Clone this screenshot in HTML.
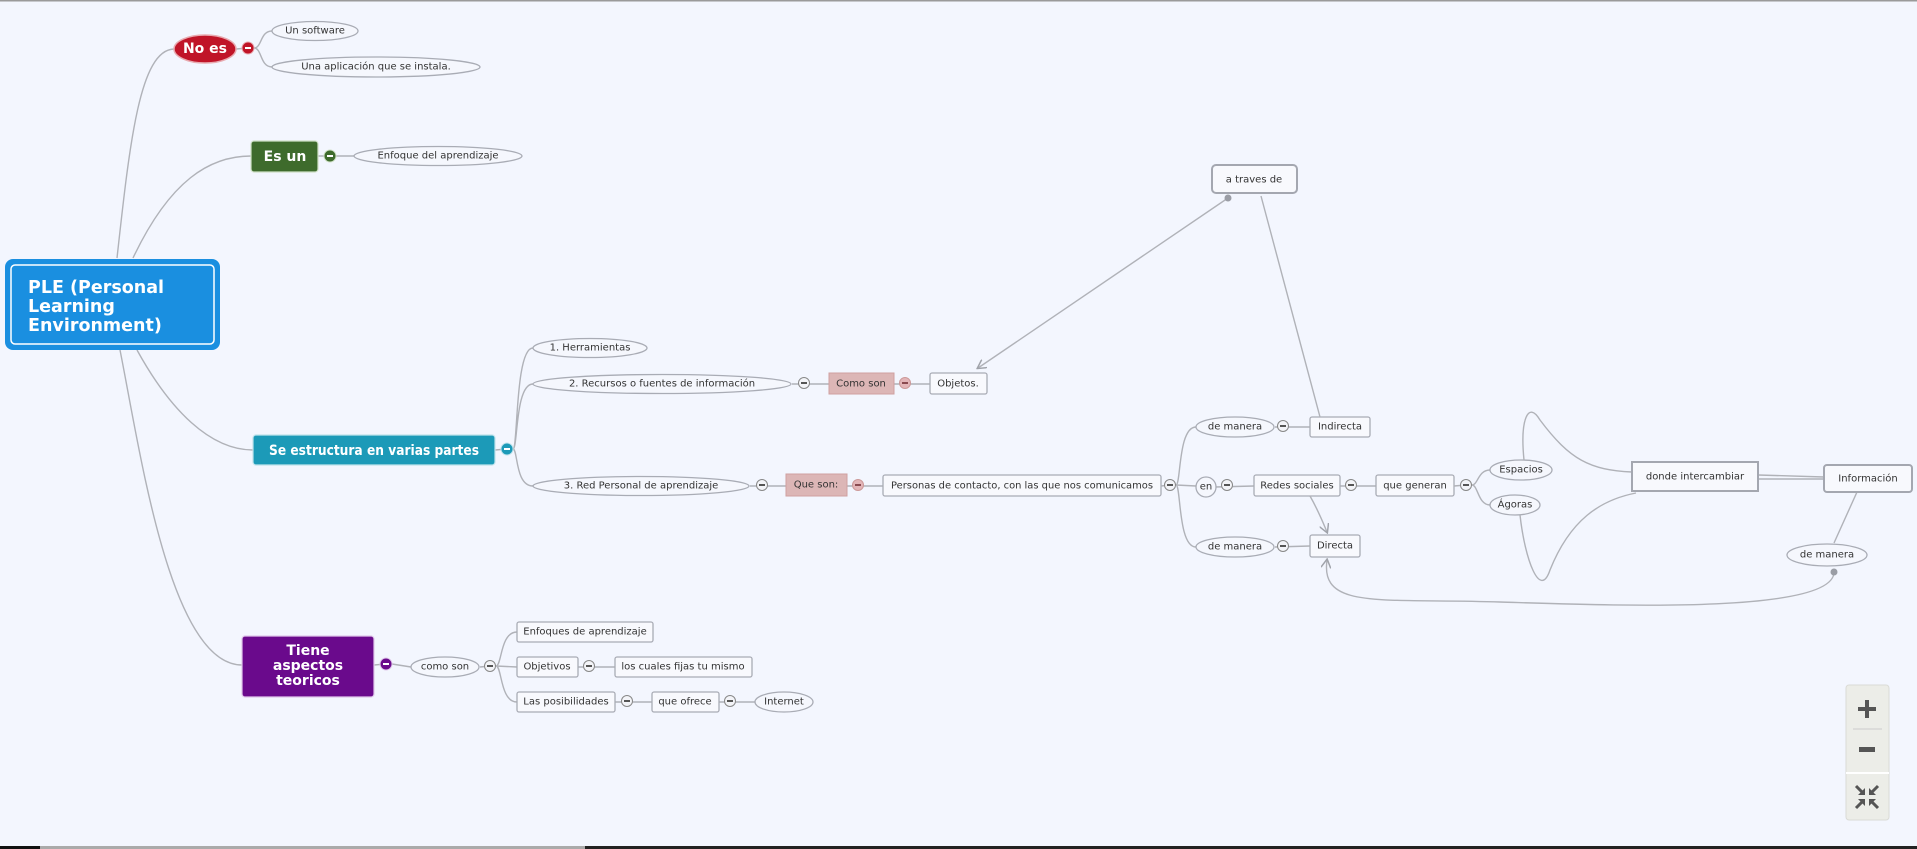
<!DOCTYPE html>
<html><head><meta charset="utf-8"><style>
html,body{margin:0;padding:0;background:#f3f6fe;}
svg{display:block;font-family:"DejaVu Sans","Liberation Sans",sans-serif;}
.t{font-size:10px;fill:#333;text-anchor:middle;dominant-baseline:central;}
.e{fill:#f5f7fd;stroke:#a9acb5;stroke-width:1.3;}
.r{fill:#f8f9fd;stroke:#a9acb5;stroke-width:1.3;}
.l{fill:none;stroke:#b0b2b8;stroke-width:1.4;}
.m{stroke:#888;stroke-width:1;fill:#f3f4f8;}
</style></head><body>
<svg width="1917" height="849" viewBox="0 0 1917 849" xmlns="http://www.w3.org/2000/svg">
<defs>
<marker id="ar" markerWidth="10" markerHeight="10" refX="8" refY="5" orient="auto" markerUnits="userSpaceOnUse"><path d="M0,0 L9,5 L0,10" fill="none" stroke="#a0a3aa" stroke-width="1.5"/></marker>
<g id="mn"><circle r="5.5" class="m"/><rect x="-3" y="-1" width="6" height="2" fill="#555"/></g>
</defs>
<rect x="0" y="0" width="1917" height="1.5" fill="#9a9a9a"/>
<rect x="0" y="846" width="40" height="3" fill="#111"/>
<rect x="40" y="846" width="545" height="3" fill="#aaa"/>
<rect x="585" y="846" width="1332" height="3" fill="#222"/>

<path class="l" d="M117,258 C130,140 140,50 174,49"/>
<path class="l" d="M133,258 C170,180 210,156 251,156"/>
<path class="l" d="M137,350 C170,410 210,450 253,450"/>
<path class="l" d="M120,350 C140,450 170,665 242,665"/>

<path class="l" d="M236,49 L248,48 M254,48 C262,48 260,31 272,31 M254,48 C262,48 260,67 272,67"/>
<ellipse cx="205" cy="49" rx="31" ry="14" fill="#c01428" stroke="#e8aab0" stroke-width="1.5"/>
<text x="205" y="49" fill="#fff" font-weight="bold" font-size="14" text-anchor="middle" dominant-baseline="central">No es</text>
<g transform="translate(248,48)"><circle r="6" fill="#c01428" stroke="#e8aab0"/><rect x="-3" y="-1" width="6" height="2" fill="#fff"/></g>
<ellipse class="e" cx="315" cy="31" rx="43" ry="9.5"/><text class="t" x="315" y="31">Un software</text>
<ellipse class="e" cx="376" cy="67" rx="104" ry="10"/><text class="t" x="376" y="67">Una aplicación que se instala.</text>

<path class="l" d="M318,156 L354,156"/>
<rect x="251" y="141" width="67" height="31" rx="3" fill="#3e6b2c" stroke="#cfe0c6" stroke-width="1.2"/>
<text x="285" y="157" fill="#fff" font-weight="bold" font-size="14" text-anchor="middle" dominant-baseline="central">Es un</text>
<g transform="translate(330,156)"><circle r="6" fill="#3e6b2c" stroke="#cfe0c6"/><rect x="-3" y="-1" width="6" height="2" fill="#fff"/></g>
<ellipse class="e" cx="438" cy="156" rx="84" ry="9.5"/><text class="t" x="438" y="156">Enfoque del aprendizaje</text>

<rect x="5" y="259" width="215" height="91" rx="8" fill="#1a8fe0"/>
<rect x="11" y="265" width="203" height="79" rx="4" fill="#1a8fe0" stroke="#fff" stroke-width="1.5"/>
<text fill="#fff" font-weight="bold" font-size="17.5" x="28" y="293">PLE (Personal</text>
<text fill="#fff" font-weight="bold" font-size="17.5" x="28" y="312">Learning</text>
<text fill="#fff" font-weight="bold" font-size="17.5" x="28" y="331">Environment)</text>

<path class="l" d="M495,450 L507,449 M513,449 C518,449 515,348 533,348 M513,449 C518,449 515,384 533,384 M513,449 C518,449 515,486 533,486"/>
<rect x="253" y="435" width="242" height="30" rx="3" fill="#1c9ab8" stroke="#bfe3ec" stroke-width="1.2"/>
<text x="374" y="451" fill="#fff" font-weight="bold" font-size="14" text-anchor="middle" dominant-baseline="central" textLength="210" lengthAdjust="spacingAndGlyphs">Se estructura en varias partes</text>
<g transform="translate(507,449)"><circle r="6" fill="#1c9ab8" stroke="#bfe3ec"/><rect x="-3" y="-1" width="6" height="2" fill="#fff"/></g>
<ellipse class="e" cx="590" cy="348" rx="57" ry="9.5"/><text class="t" x="590" y="348">1. Herramientas</text>
<path class="l" d="M792,384 L930,384"/>
<ellipse class="e" cx="662" cy="384" rx="129" ry="9.5"/><text class="t" x="662" y="384">2. Recursos o fuentes de información</text>
<use href="#mn" x="804" y="383"/>
<rect x="829" y="373" width="65" height="21" fill="#dcb6b6" stroke="#cfa0a0"/><text class="t" x="861" y="384" fill="#555">Como son</text>
<g transform="translate(905,383)"><circle r="5.5" fill="#e3b5b8" stroke="#c99"/><rect x="-3" y="-1" width="6" height="2" fill="#8a4a50"/></g>
<rect class="r" x="930" y="373" width="57" height="21" rx="2"/><text class="t" x="958" y="384">Objetos.</text>

<path class="l" d="M750,486 L883,486"/>
<ellipse class="e" cx="641" cy="486" rx="108" ry="9.5"/><text class="t" x="641" y="486">3. Red Personal de aprendizaje</text>
<use href="#mn" x="762" y="485"/>
<rect x="786" y="474" width="61" height="22" fill="#dcb6b6" stroke="#cfa0a0"/><text class="t" x="816" y="485" fill="#555">Que son:</text>
<g transform="translate(858,485)"><circle r="5.5" fill="#e3b5b8" stroke="#c99"/><rect x="-3" y="-1" width="6" height="2" fill="#8a4a50"/></g>
<rect class="r" x="883" y="475" width="278" height="21" rx="2"/><text class="t" x="1022" y="486" textLength="262" lengthAdjust="spacingAndGlyphs">Personas de contacto, con las que nos comunicamos</text>

<path class="l" d="M1161,486 L1170,485 M1176,485 C1181,485 1178,427 1196,427 M1176,485 L1196,486 M1176,485 C1181,485 1178,547 1196,547"/>
<use href="#mn" x="1170" y="485"/>
<path class="l" d="M1275,427 L1310,427 M1215,487 L1254,486 M1340,486 L1376,486 M1275,547 L1310,546"/>
<ellipse class="e" cx="1235" cy="427" rx="39" ry="10"/><text class="t" x="1235" y="427">de manera</text>
<use href="#mn" x="1283" y="426"/>
<rect class="r" x="1310" y="417" width="60" height="20" rx="2"/><text class="t" x="1340" y="427">Indirecta</text>
<ellipse class="e" cx="1206" cy="487" rx="10" ry="10"/><text class="t" x="1206" y="487">en</text>
<use href="#mn" x="1227" y="485"/>
<rect class="r" x="1254" y="475" width="86" height="21" rx="2"/><text class="t" x="1297" y="486">Redes sociales</text>
<use href="#mn" x="1351" y="485"/>
<rect class="r" x="1376" y="475" width="78" height="21" rx="2"/><text class="t" x="1415" y="486">que generan</text>
<path class="l" d="M1454,486 L1466,485 M1472,485 C1478,485 1478,470 1490,470 M1472,485 C1478,485 1478,505 1490,505"/>
<use href="#mn" x="1466" y="485"/>
<ellipse class="e" cx="1521" cy="470" rx="31" ry="10"/><text class="t" x="1521" y="470">Espacios</text>
<ellipse class="e" cx="1515" cy="505" rx="25" ry="10"/><text class="t" x="1515" y="505">Ágoras</text>
<ellipse class="e" cx="1235" cy="547" rx="39" ry="10"/><text class="t" x="1235" y="547">de manera</text>
<use href="#mn" x="1283" y="546"/>
<rect class="r" x="1310" y="535" width="50" height="22" rx="2"/><text class="t" x="1335" y="546">Directa</text>

<path class="l" d="M1524,460 C1520,420 1528,400 1540,420 C1570,460 1590,470 1632,472"/>
<path class="l" d="M1520,515 C1525,560 1540,600 1550,570 C1570,520 1600,500 1636,493"/>
<path class="l" d="M1758,475 L1824,477 M1758,479 L1824,479"/>
<path class="l" d="M1857,492 L1834,543"/>
<path class="l" d="M1310,496 C1318,510 1322,520 1327,532" marker-end="url(#ar)"/>
<path class="l" d="M1834,572 C1834,615 1600,605 1500,602 C1380,598 1320,610 1327,560" marker-end="url(#ar)"/>
<circle cx="1834" cy="572" r="3.5" fill="#9a9da5"/>
<path class="l" d="M1228,198 L978,368" marker-end="url(#ar)"/>
<path class="l" d="M1261,196 L1320,417"/>
<circle cx="1228" cy="198" r="3.5" fill="#9a9da5"/>

<rect x="1632" y="462" width="126" height="29" fill="#f8f9fd" stroke="#a4a7b0" stroke-width="2"/><text class="t" x="1695" y="477">donde intercambiar</text>
<rect x="1824" y="465" width="88" height="27" rx="3" fill="#f8f9fd" stroke="#a4a7b0" stroke-width="2"/><text class="t" x="1868" y="479">Información</text>
<ellipse class="e" cx="1827" cy="555" rx="40" ry="11" stroke-width="1.8"/><text class="t" x="1827" y="555">de manera</text>
<rect x="1212" y="165" width="85" height="28" rx="4" fill="#f8f9fd" stroke="#a4a7b0" stroke-width="2"/><text class="t" x="1254" y="180">a traves de</text>

<path class="l" d="M374,665 L386,664 M392,664 L411,667 M480,667 L490,666 M496,666 C502,666 500,632 517,632 M496,666 L517,667 M496,666 C502,666 500,702 517,702 M578,667 L615,667 M615,702 L652,702 M719,702 L755,702"/>
<rect x="242" y="636" width="132" height="61" rx="3" fill="#6a0a8c" stroke="#e0c8ea" stroke-width="1.2"/>
<text fill="#fff" font-weight="bold" font-size="14" text-anchor="middle" x="308" y="655">Tiene</text>
<text fill="#fff" font-weight="bold" font-size="14" text-anchor="middle" x="308" y="670">aspectos</text>
<text fill="#fff" font-weight="bold" font-size="14" text-anchor="middle" x="308" y="685">teoricos</text>
<g transform="translate(386,664)"><circle r="6" fill="#6a0a8c" stroke="#e0c8ea"/><rect x="-3" y="-1" width="6" height="2" fill="#fff"/></g>
<ellipse class="e" cx="445" cy="667" rx="34" ry="10"/><text class="t" x="445" y="667">como son</text>
<use href="#mn" x="490" y="666"/>
<rect class="r" x="517" y="622" width="136" height="20" rx="2"/><text class="t" x="585" y="632">Enfoques de aprendizaje</text>
<rect class="r" x="517" y="657" width="61" height="20" rx="2"/><text class="t" x="547" y="667">Objetivos</text>
<use href="#mn" x="589" y="666"/>
<rect class="r" x="615" y="657" width="137" height="20" rx="2"/><text class="t" x="683" y="667">los cuales fijas tu mismo</text>
<rect class="r" x="517" y="692" width="98" height="20" rx="2"/><text class="t" x="566" y="702">Las posibilidades</text>
<use href="#mn" x="627" y="701"/>
<rect class="r" x="652" y="692" width="67" height="20" rx="2"/><text class="t" x="685" y="702">que ofrece</text>
<use href="#mn" x="730" y="701"/>
<ellipse class="e" cx="784" cy="702" rx="29" ry="10"/><text class="t" x="784" y="702">Internet</text>

<rect x="1846" y="685" width="43" height="135" rx="3" fill="#ecede8" stroke="#dadbd6"/>
<rect x="1846" y="772" width="43" height="2" fill="#fff"/>
<line x1="1853" y1="729" x2="1882" y2="729" stroke="#ccc"/>
<rect x="1858" y="707" width="18" height="4" fill="#555"/><rect x="1865" y="700" width="4" height="18" fill="#555"/>
<rect x="1859" y="747" width="16" height="5" fill="#555"/>
<g stroke="#555" stroke-width="3" fill="none">
<path d="M1856,786 L1863,793 M1878,786 L1871,793 M1856,808 L1863,801 M1878,808 L1871,801"/>
</g>
<g fill="#555">
<path d="M1865,795 L1858,795 L1865,788Z M1869,795 L1876,795 L1869,788Z M1865,799 L1858,799 L1865,806Z M1869,799 L1876,799 L1869,806Z"/>
</g>
</svg>
</body></html>
